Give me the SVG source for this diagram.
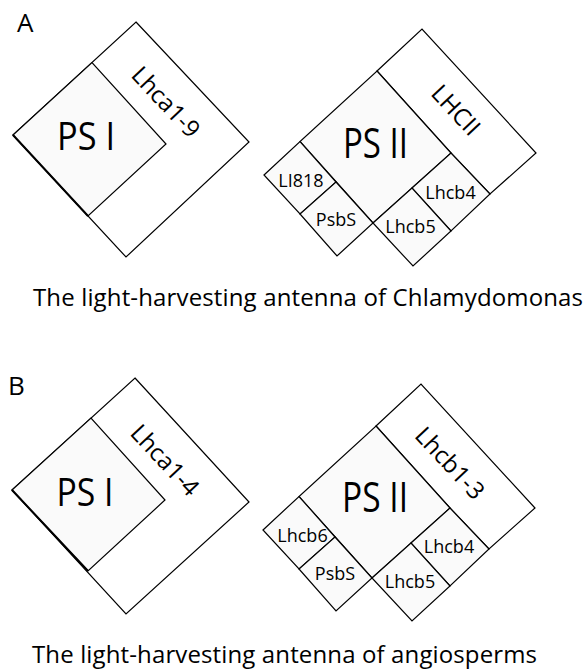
<svg xmlns="http://www.w3.org/2000/svg" width="586" height="672" viewBox="0 0 586 672">
<style>
  .w { fill: #ffffff; stroke: #000; stroke-width: 1.2; stroke-linejoin: miter; }
  .g { fill: #fafafa; stroke: #000; stroke-width: 1.2; stroke-linejoin: miter; }
  .edge { stroke: #000; stroke-width: 2; fill: none; }
  text { font-family: "Open Sans", "Noto Sans", "DejaVu Sans", sans-serif; fill: #000; }
  .big { text-anchor: middle; }
  .sm { font-size: 18px; text-anchor: middle; }
  .rot { font-size: 24px; text-anchor: middle; }
  .cap { font-size: 24px; }
  .pl { font-size: 26px; }
</style>
<rect x="0" y="0" width="586" height="672" fill="#ffffff"/>
<g id="connectors"/>

<!-- Panel A -->
<text class="pl" x="17" y="32">A</text>
<g id="A-Lhca">
  <polygon class="w" points="136,22 249,142 126,257 13,135"/>
  <text class="rot" transform="translate(166,102) rotate(46.7)" y="8.5">Lhca1-9</text>
</g>
<g id="A-PSI">
  <polygon class="g" points="13,135 92,62.5 166,144 88,216"/>
  <line class="edge" x1="13" y1="135" x2="88" y2="216"/>
  <text class="big" x="86" y="150" font-size="38" textLength="58" lengthAdjust="spacingAndGlyphs">PS I</text>
</g>
<g id="A-LHCII">
  <polygon class="w" points="377,71 422,29 536,153 490,194 451,153"/>
  <text class="rot" transform="translate(456,110) rotate(47)" y="8.5">LHCII</text>
</g>
<g id="A-PSII">
  <polygon class="g" points="377,71 451,153 373,223 300,141.5"/>
  <text class="big" x="375.5" y="158" font-size="42" textLength="65" lengthAdjust="spacingAndGlyphs">PS II</text>
</g>
<g id="A-LI818">
  <polygon class="g" points="264,175 300,141.5 336,182 300,214"/>
  <text class="sm" x="301" y="187">LI818</text>
</g>
<g id="A-PsbS">
  <polygon class="g" points="336,182 373,223 337,256 300,214"/>
  <text class="sm" x="336" y="226">PsbS</text>
</g>
<g id="A-Lhcb4">
  <polygon class="g" points="412,188 451,153 490,194 451,231"/>
  <text class="sm" x="450.5" y="199">Lhcb4</text>
</g>
<g id="A-Lhcb5">
  <polygon class="g" points="373,223 412,188 451,231 413,266"/>
  <text class="sm" x="410.5" y="233">Lhcb5</text>
</g>
<text class="cap" x="33" y="306" textLength="550" lengthAdjust="spacing">The light-harvesting antenna of Chlamydomonas</text>

<!-- Panel B -->
<text class="pl" x="8" y="395">B</text>
<g id="B-Lhca">
  <polygon class="w" points="135,378 249,502 126,614 12,490"/>
  <text class="rot" transform="translate(165,460) rotate(47)" y="8.5">Lhca1-4</text>
</g>
<g id="B-PSI">
  <polygon class="g" points="12,490 91,418 165,500 88,571"/>
  <line class="edge" x1="12" y1="490" x2="88" y2="571"/>
  <text class="big" x="85" y="505.5" font-size="38" textLength="57" lengthAdjust="spacingAndGlyphs">PS I</text>
</g>
<g id="B-Lhcb1-3">
  <polygon class="w" points="376,426 421,384 535,508 489,549 450,508"/>
  <text class="rot" transform="translate(450,463) rotate(47)" y="8.5">Lhcb1-3</text>
</g>
<g id="B-PSII">
  <polygon class="g" points="376,426 450,508 372,578 299,496.5"/>
  <text class="big" x="375" y="512" font-size="42" textLength="66" lengthAdjust="spacingAndGlyphs">PS II</text>
</g>
<g id="B-Lhcb6">
  <polygon class="g" points="263,530 299,496.5 335,537 299,569"/>
  <text class="sm" x="302.5" y="542">Lhcb6</text>
</g>
<g id="B-PsbS">
  <polygon class="g" points="335,537 372,578 336,611 299,569"/>
  <text class="sm" x="335" y="580">PsbS</text>
</g>
<g id="B-Lhcb4">
  <polygon class="g" points="411,543 450,508 489,549 450,586"/>
  <text class="sm" x="449" y="553">Lhcb4</text>
</g>
<g id="B-Lhcb5">
  <polygon class="g" points="372,578 411,543 450,586 412,621"/>
  <text class="sm" x="410" y="588">Lhcb5</text>
</g>
<text class="cap" x="32" y="663" textLength="505" lengthAdjust="spacing">The light-harvesting antenna of angiosperms</text>
</svg>
